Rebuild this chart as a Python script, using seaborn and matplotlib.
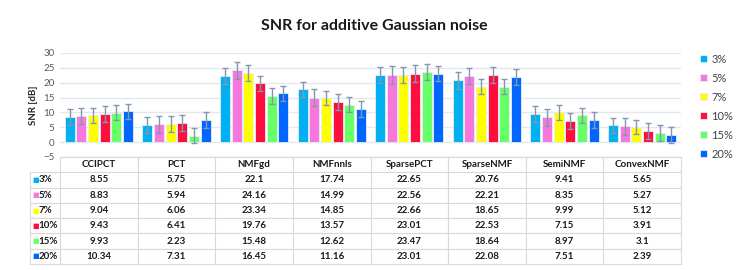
import numpy as np
import pandas as pd
import seaborn as sns
import matplotlib.pyplot as plt

methods = ['CCIPCT', 'PCT', 'NMFgd', 'NMFnnls', 'SparsePCT', 'SparseNMF', 'SemiNMF', 'ConvexNMF']
levels = ['3%', '5%', '7%', '10%', '15%', '20%']

snr_3 = [8.55, 5.75, 22.1, 17.74, 22.65, 20.76, 9.41, 5.65]
snr_5 = [8.83, 5.94, 24.16, 14.99, 22.56, 22.21, 8.35, 5.27]
snr_7 = [9.04, 6.06, 23.34, 14.85, 22.66, 18.65, 9.99, 5.12]
snr_10 = [9.43, 6.41, 19.76, 13.57, 23.01, 22.53, 7.15, 3.91]
snr_15 = [9.93, 2.23, 15.48, 12.62, 23.47, 18.64, 8.97, 3.1]
snr_20 = [10.34, 7.31, 16.45, 11.16, 23.01, 22.08, 7.51, 2.39]

# error bar half lengths
err_3 = [2.7, 2.6, 2.7, 2.5, 2.6, 2.75, 2.6, 2.6]
err_5 = [2.8, 2.9, 2.8, 2.8, 2.9, 2.75, 2.8, 2.8]
err_7 = [2.6, 2.6, 2.6, 2.5, 2.6, 2.6, 2.6, 2.5]
err_10 = [2.6, 2.7, 2.6, 2.6, 2.8, 2.6, 2.6, 2.7]
err_15 = [2.5, 2.6, 2.6, 2.5, 2.7, 2.6, 2.6, 2.6]
err_20 = [2.6, 2.7, 2.6, 2.6, 2.6, 2.7, 2.6, 2.6]

colors = ['#00B0F0', '#F778DC', '#FFFF00', '#FF0D3D', '#66FF66', '#0066FF']

snr = [snr_3, snr_5, snr_7, snr_10, snr_15, snr_20]
errs = [err_3, err_5, err_7, err_10, err_15, err_20]

rows = []
for lev, vals in zip(levels, snr):
    for m, v in zip(methods, vals):
        rows.append({'method': m, 'level': lev, 'snr': v})
df = pd.DataFrame(rows)

sns.set_theme(style='white')
plt.rcParams['font.family'] = ['Lato', 'DejaVu Sans']

fig = plt.figure(figsize=(7.48, 2.70), dpi=100)
ax = fig.add_axes([60 / 748, 1 - 157 / 270, 621 / 748, 104 / 270])

sns.barplot(data=df, x='method', y='snr', hue='level', order=methods, hue_order=levels,
            palette=dict(zip(levels, colors)), saturation=1, errorbar=None, width=0.9, gap=0.14,
            edgecolor='#E8EEF6', linewidth=0.6, ax=ax, zorder=2)

# error bars on top of the bars seaborn placed
for cont, e in zip(ax.containers, errs):
    xs = [b.get_x() + b.get_width() / 2 for b in cont]
    ys = [b.get_height() for b in cont]
    ax.errorbar(xs, ys, yerr=e, fmt='none', ecolor='#8497B0', elinewidth=1.0,
                capsize=2.2, capthick=1.0, zorder=3)

ax.set_ylim(-5, 30)
ax.set_xlim(-0.5, 7.5)
ax.set_yticks(range(-5, 31, 5))
ax.yaxis.grid(True, color='#E4E7EC', linewidth=1.0, zorder=0)
ax.set_axisbelow(True)
for s in ax.spines.values():
    s.set_visible(False)
ax.set_xticks([])
ax.set_xlabel('')
ax.tick_params(axis='y', length=0, labelsize=7, labelcolor='#595959', pad=4)
ax.set_ylabel('SNR [dB]', fontsize=7, fontweight='bold', color='#262626', labelpad=4)

fig.suptitle('SNR for additive Gaussian noise', x=0.5, y=0.93, fontsize=11.5, fontweight='bold',
             color='#1a1a1a')

# legend on the right
handles, labels = ax.get_legend_handles_labels()
ax.legend(handles, labels, loc='upper left', bbox_to_anchor=(1.015, 1.09), frameon=False,
          fontsize=8, handlelength=0.6, handleheight=0.6, handletextpad=0.4,
          labelspacing=0.72, labelcolor='#404040')

# data table below the plot
cell_text = [[''] + methods]
for vals in snr:
    cell_text.append([''] + [f'{v:g}' for v in vals])

col_w = [30 / 651] + [77.6 / 651] * 8
tbl = ax.table(cellText=cell_text, colWidths=col_w, cellLoc='center',
               bbox=[-30 / 621, -107 / 104, 651 / 621, 107 / 104])
tbl.auto_set_font_size(False)
for (r, c), cell in tbl.get_celld().items():
    cell.set_edgecolor('#D9D9D9')
    cell.set_linewidth(0.8)
    cell.get_text().set_fontsize(7)
    cell.get_text().set_fontweight('bold')
    cell.get_text().set_color('#1a1a1a')
    if r == 0 and c == 0:
        cell.visible_edges = ''

# row labels: coloured square plus level
row_h = 107 / 7 / 104
for i, (lev, col) in enumerate(zip(levels, colors)):
    y = -(i + 1.5) * row_h
    ax.text(-28 / 621, y, '■', color=col, fontsize=5, ha='left', va='center',
            transform=ax.transAxes, clip_on=False, family=['DejaVu Sans'])
    ax.text(-21.5 / 621, y, lev, color='#1a1a1a', fontsize=7, fontweight='bold', ha='left',
            va='center', transform=ax.transAxes, clip_on=False)

fig.savefig('out.png', dpi=100)
